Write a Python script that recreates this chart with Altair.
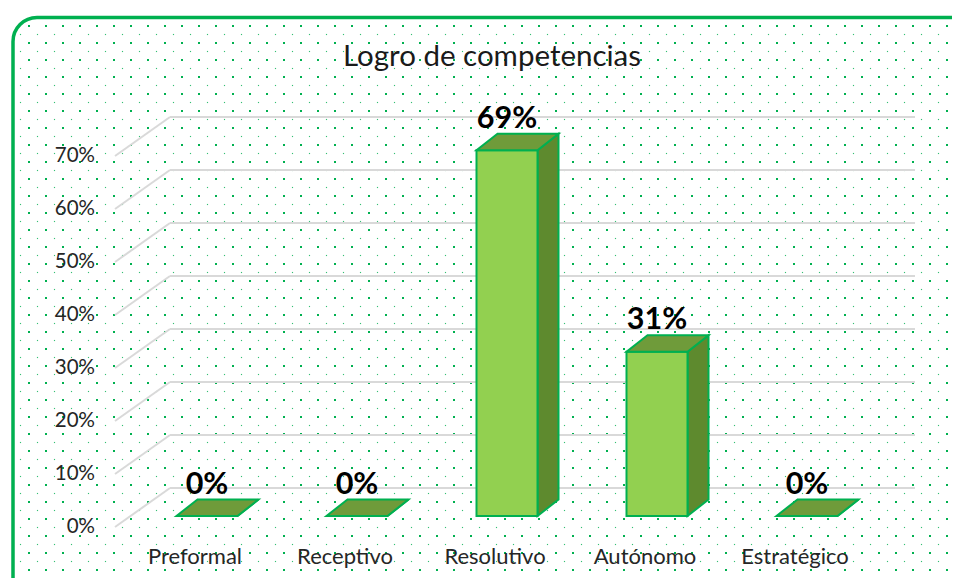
import altair as alt
import pandas as pd
import numpy as np

# ---------------- data ----------------
categories = ["Preformal", "Receptivo", "Resolutivo", "Autónomo", "Estratégico"]
values = [0, 0, 69, 31, 0]
value_labels = ["0%", "0%", "69%", "31%", "0%"]
tick_values = [0, 10, 20, 30, 40, 50, 60, 70]
tick_labels = ["0%", "10%", "20%", "30%", "40%", "50%", "60%", "70%"]
title_text = "Logro de competencias"

# ---------------- layout ----------------
W, H = 944, 570
X0 = 199.0   # svg x of first category (front face centre)
XS = 150.0   # px per category
Y0 = 508.0   # svg y of 0 % at bar front plane
YS = 5.3     # px per percent


def U(px):  # page px -> category units
    return (px - 8 - X0) / XS


def P(py):  # page px -> percent units
    return (Y0 - (py - 8)) / YS


xs = alt.Scale(domain=[U(8), U(8 + W)], nice=False, zero=False)
ys = alt.Scale(domain=[P(8 + H), P(8)], nice=False, zero=False)


def X(f):
    return alt.X(f, type="quantitative", scale=xs, axis=None)


def Y(f):
    return alt.Y(f, type="quantitative", scale=ys, axis=None)


FONT = "Lato"
GREEN = "#00B050"

# ---------------- background dots ----------------
big = [(x, y) for x in np.arange(29, 952, 17) for y in np.arange(26, 578, 17)]
small = [(x, y) for x in np.arange(20.5, 952, 17) for y in np.arange(34.5, 578, 17)]
dots_big = pd.DataFrame({"u": [U(a) for a, b in big], "p": [P(b) for a, b in big]})
dots_small = pd.DataFrame({"u": [U(a) for a, b in small], "p": [P(b) for a, b in small]})

l_dots_big = alt.Chart(dots_big).mark_square(size=4, color=GREEN, opacity=1).encode(x=X("u"), y=Y("p"))
l_dots_small = alt.Chart(dots_small).mark_square(size=1.3, color=GREEN, opacity=0.8).encode(x=X("u"), y=Y("p"))

# ---------------- grid ----------------
back_dp = P(488)
front_dp = P(527)
grid = pd.DataFrame({
    "v": tick_values,
    "lab": tick_labels,
    "ub": U(170), "ue": U(915), "uf": U(115),
})
grid["pb"] = grid["v"] + back_dp
grid["pf"] = grid["v"] + front_dp
grid["ul"] = U(95)

l_grid_h = alt.Chart(grid).mark_rule(color="#D9D9D9", strokeWidth=2).encode(
    x=X("ub"), x2=alt.X2("ue"), y=Y("pb"))
l_grid_d = alt.Chart(grid).mark_rule(color="#D9D9D9", strokeWidth=2).encode(
    x=X("uf"), x2=alt.X2("ub"), y=Y("pf"), y2=alt.Y2("pb"))
l_ticks = alt.Chart(grid).mark_text(align="right", baseline="middle", font=FONT, fontSize=20.5,
                                    color="#262626").encode(x=X("ul"), y=Y("pf"), text="lab:N")

# ---------------- bars ----------------
half = 30.5 / XS
du = 21.0 / XS
dp = 16.5 / YS

front = pd.DataFrame({"cat": categories, "v": values})
front["i"] = range(len(categories))
front["u0"] = front["i"] - half
front["u1"] = front["i"] + half
front["p0"] = 0.0

top_rows, side_rows = [], []
for i, (c, v) in enumerate(zip(categories, values)):
    top_rows.append({"cat": c, "p": v, "x": i - half, "x2": i + half})
    top_rows.append({"cat": c, "p": v + dp, "x": i - half + du, "x2": i + half + du})
    side_rows.append({"cat": c, "u": i + half, "y": 0.0, "y2": v})
    side_rows.append({"cat": c, "u": i + half + du, "y": dp, "y2": v + dp})
top = pd.DataFrame(top_rows)
side = pd.DataFrame(side_rows)

l_side = alt.Chart(side).mark_area(orient="vertical", color="#5E8A2E", stroke=GREEN,
                                   strokeWidth=2, opacity=1).encode(
    x=X("u"), y=Y("y"), y2=alt.Y2("y2"), detail="cat:N")
l_front = alt.Chart(front).mark_rect(color="#92D050", stroke=GREEN, strokeWidth=2).encode(
    x=X("u0"), x2=alt.X2("u1"), y=Y("p0"), y2=alt.Y2("v"))
l_top = alt.Chart(top).mark_area(orient="horizontal", color="#6F9B3A", stroke=GREEN,
                                 strokeWidth=2, opacity=1).encode(
    y=Y("p"), x=X("x"), x2=alt.X2("x2"), detail="cat:N")

# ---------------- labels ----------------
vl = pd.DataFrame({"i": range(len(categories)), "v": values, "lab": value_labels})
vl["p"] = vl["v"] + dp + 6.0 / YS
l_vals = alt.Chart(vl).mark_text(align="center", baseline="alphabetic", font=FONT, fontSize=30.5,
                                 fontWeight="bold", color="#000000").encode(
    x=X("i"), y=Y("p"), text="lab:N")

cl = pd.DataFrame({"cat": categories, "i": range(len(categories))})
cl["u"] = cl["i"] - 12.0 / XS
cl["p"] = P(557)
l_cats = alt.Chart(cl).mark_text(align="center", baseline="middle", font=FONT, fontSize=22,
                                 color="#262626").encode(x=X("u"), y=Y("p"), text="cat:N")

tl = pd.DataFrame({"t": [title_text], "u": [U(492)], "p": [P(57)]})
l_title = alt.Chart(tl).mark_text(align="center", baseline="middle", font=FONT, fontSize=29.5,
                                  color="#1a1a1a").encode(x=X("u"), y=Y("p"), text="t:N")

# ---------------- border ----------------
bd = pd.DataFrame({"u0": [U(13)], "u1": [U(1300)], "p0": [P(17.5)], "p1": [P(1300)]})
l_border = alt.Chart(bd).mark_rect(fillOpacity=0, fill="white", stroke=GREEN, strokeWidth=3.5,
                                   cornerRadius=24).encode(
    x=X("u0"), x2=alt.X2("u1"), y=Y("p0"), y2=alt.Y2("p1"))

chart = alt.layer(
    l_dots_small, l_dots_big, l_grid_h, l_grid_d, l_ticks,
    l_side, l_front, l_top, l_vals, l_cats, l_title, l_border
).properties(width=W, height=H, autosize="none", padding=0).configure_view(strokeWidth=0)

chart.save("out.html", embed_options={"renderer": "svg", "actions": False})
